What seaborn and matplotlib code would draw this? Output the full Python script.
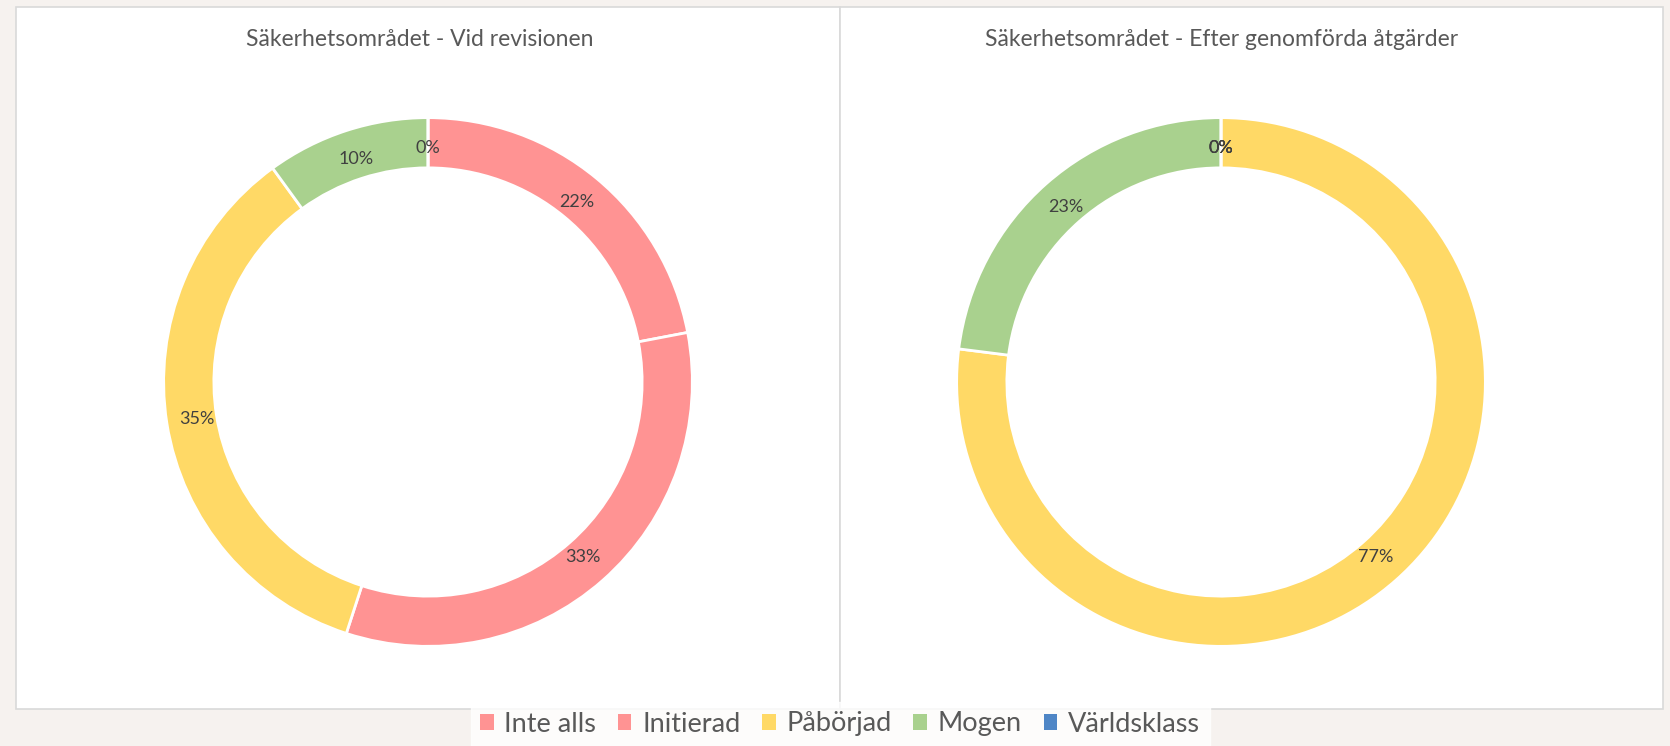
import matplotlib
matplotlib.use("Agg")
import matplotlib.pyplot as plt
from matplotlib.patches import Rectangle, Patch
import seaborn as sns

# ---- data ----
categories = ["Inte alls", "Initierad", "Påbörjad", "Mogen", "Världsklass"]
values_before = [22, 33, 35, 10, 0]
values_after = [0, 0, 77, 23, 0]
titles = ["Säkerhetsområdet - Vid revisionen",
          "Säkerhetsområdet - Efter genomförda åtgärder"]

sns.set_theme(style="white")
plt.rcParams['font.family'] = ['Lato', 'DejaVu Sans']
palette = sns.color_palette(["#FF9393", "#FF9393", "#FFD966", "#A9D18E", "#4F86C6"])

W, H = 1670, 746
fig = plt.figure(figsize=(W / 100, H / 100), dpi=100, facecolor="#F6F2EF")

# panels
for x0, x1 in [(16, 840), (840, 1663)]:
    fig.patches.append(Rectangle((x0 / W, 1 - 709 / H), (x1 - x0) / W, (709 - 7) / H,
                                 transform=fig.transFigure, facecolor="white",
                                 edgecolor="#D9D9D9", linewidth=1.2, zorder=-5))

R = 267
centers = [(428, 382), (1221, 382)]
title_x = [420, 1222]
for (cx, cy), tx, vals, title in zip(centers, title_x, [values_before, values_after], titles):
    ax = fig.add_axes([(cx - R) / W, (H - cy - R) / H, 2 * R / W, 2 * R / H])
    ax.set_zorder(2)
    wedges, texts, autotexts = ax.pie(
        vals, colors=palette, startangle=90, counterclock=False, radius=1,
        wedgeprops=dict(width=0.19, edgecolor="white", linewidth=2),
        autopct="%d%%", pctdistance=0.885,
        textprops=dict(color="#404040", fontsize=13))
    ax.set_xlim(-1.01, 1.01)
    ax.set_ylim(-1.01, 1.01)
    ax.set_axis_off()
    ax.patch.set_alpha(0)
    fig.text(tx / W, 1 - 40 / H, title, ha="center", va="center",
             fontsize=16.5, color="#595959")

handles = [Patch(facecolor=c, edgecolor="none") for c in palette]
leg = fig.legend(handles, categories, loc="center", bbox_to_anchor=(840 / W, 1 - 724 / H),
                 ncol=5, frameon=True, fontsize=19.5, handlelength=0.5, handleheight=0.5,
                 handletextpad=0.4, columnspacing=0.8, borderpad=0.35, fancybox=False)
leg.get_frame().set_facecolor("white")
leg.get_frame().set_edgecolor("white")
leg.set_zorder(5)
for t in leg.get_texts():
    t.set_color("#595959")

fig.savefig("out.png", dpi=100, facecolor=fig.get_facecolor())
